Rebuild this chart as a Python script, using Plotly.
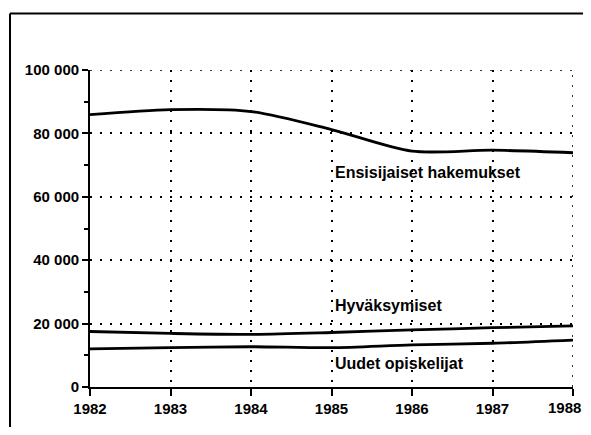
import plotly.graph_objects as go

years = [1982, 1983, 1984, 1985, 1986, 1987, 1988]
ensisijaiset = [85900, 87500, 86900, 81200, 74400, 74700, 73900]
hyvaksymiset = [17500, 16900, 16600, 17200, 18000, 18700, 19300]
uudet = [12000, 12400, 12700, 12400, 13300, 13800, 14800]

series_names = ["Ensisijaiset hakemukset", "Hyväksymiset", "Uudet opiskelijat"]
y_tick_vals = [0, 20000, 40000, 60000, 80000, 100000]
y_tick_labels = ["0", "20 000", "40 000", "60 000", "80 000", "100 000"]
x_tick_vals = years
x_tick_labels = [str(y) for y in years]

FONT = "Liberation Sans Narrow, Liberation Sans, Arial, sans-serif"

# page has an 8px body margin; figure sized to fit inside the window
OFF = 8
W, H = 591 - 2 * OFF, 435 - 2 * OFF
ML, MT = 90 - OFF, 70 - OFF
pw, ph = 483, 320
MR = W - ML - pw
MB = H - MT - ph

DOTS = "2px,8px"
TICKFONT = dict(family=FONT, size=15, color="black", weight="bold")

fig = go.Figure()
for name, vals in zip(series_names, [ensisijaiset, hyvaksymiset, uudet]):
    fig.add_trace(go.Scatter(x=years, y=vals, mode="lines", name=name,
                             line=dict(color="black", width=2.8, shape="spline", smoothing=0.8),
                             showlegend=False, hoverinfo="skip", cliponaxis=False))

label_pos = [67700, 25800, 7500]
for name, ypos in zip(series_names, label_pos):
    fig.add_annotation(x=1985, y=ypos, text=name, showarrow=False,
                       xanchor="left", yanchor="middle", xshift=1,
                       font=dict(family=FONT, size=16, color="black", weight="bold"))

# last x tick label kept inside the page edge
fig.add_annotation(x=x_tick_vals[-1], xref="x", y=0, yref="paper", text=x_tick_labels[-1],
                   showarrow=False, xanchor="right", yanchor="top", xshift=10, yshift=-10,
                   font=TICKFONT)
axis_ticktext = x_tick_labels[:-1] + [""]

# edge gridlines (top and right) that plotly omits at range boundaries
fig.add_shape(type="line", xref="x", yref="y",
              x0=x_tick_vals[0], x1=x_tick_vals[-1], y0=y_tick_vals[-1], y1=y_tick_vals[-1],
              line=dict(color="black", width=1.6, dash=DOTS))
fig.add_shape(type="line", xref="x", yref="y",
              x0=x_tick_vals[-1], x1=x_tick_vals[-1], y0=y_tick_vals[0], y1=y_tick_vals[-1],
              line=dict(color="black", width=1.6, dash=DOTS))

# outer frame (left and top only), in page pixels
def px_x(p):
    return (p - OFF - ML) / pw
def px_y(p):
    return (H - MB - (p - OFF)) / ph

fig.add_shape(type="line", xref="paper", yref="paper",
              x0=px_x(10), x1=px_x(10), y0=px_y(13), y1=px_y(440),
              line=dict(color="black", width=2))
fig.add_shape(type="line", xref="paper", yref="paper",
              x0=px_x(10), x1=px_x(600), y0=px_y(13), y1=px_y(13),
              line=dict(color="black", width=2))

grid = dict(showgrid=True, gridcolor="black", gridwidth=1.6, griddash=DOTS)

fig.update_xaxes(range=[1982, 1988], tickvals=x_tick_vals, ticktext=axis_ticktext,
                 ticks="outside", ticklen=7, tickwidth=1.5, tickcolor="black",
                 showline=True, linecolor="black", linewidth=1.8, zeroline=False,
                 tickfont=TICKFONT, **grid)
fig.update_yaxes(range=[0, 100000], tickvals=y_tick_vals, ticktext=y_tick_labels,
                 ticks="outside", ticklen=6, tickwidth=1.5, tickcolor="black",
                 showline=True, linecolor="black", linewidth=1.8, zeroline=False,
                 tickfont=TICKFONT,
                 minor=dict(dtick=10000, tick0=0, ticks="outside", ticklen=4,
                            tickwidth=1.5, tickcolor="black", showgrid=False),
                 **grid)

fig.update_layout(width=W, height=H, margin=dict(l=ML, r=MR, t=MT, b=MB),
                  paper_bgcolor="white", plot_bgcolor="white")

fig.write_html("out.html", config={"displayModeBar": False})
